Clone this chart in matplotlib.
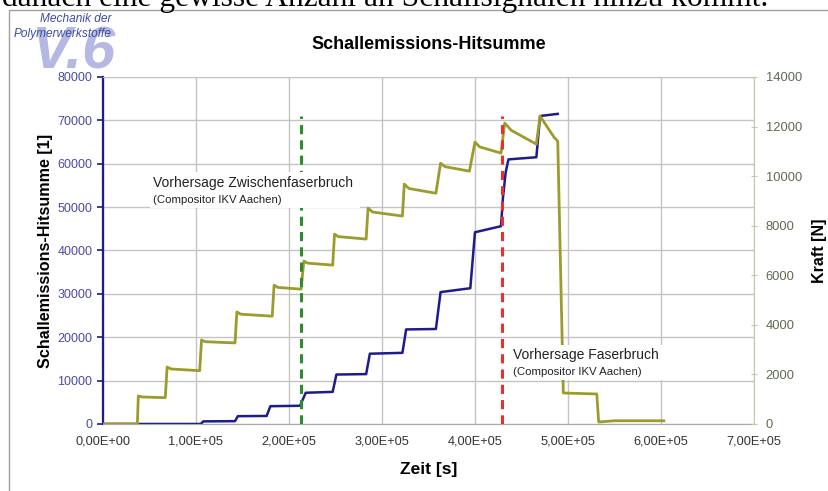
import matplotlib
matplotlib.use("Agg")
import matplotlib.pyplot as plt
from matplotlib.patches import Rectangle
from matplotlib.ticker import FuncFormatter, MultipleLocator

plt.rcParams['font.family'] = ['Liberation Sans', 'DejaVu Sans']

# Kraftverlauf (Zeit in s, Kraft in N)
zeit_kraft = [0, 0.37e5, 0.38e5, 0.42e5, 0.67e5, 0.69e5, 0.73e5, 1.04e5, 1.06e5, 1.10e5, 1.42e5,
              1.44e5, 1.48e5, 1.82e5, 1.84e5, 1.88e5, 2.13e5, 2.16e5, 2.20e5, 2.47e5, 2.49e5,
              2.53e5, 2.83e5, 2.85e5, 2.90e5, 3.22e5, 3.24e5, 3.29e5, 3.58e5, 3.63e5, 3.68e5,
              3.94e5, 4.00e5, 4.05e5, 4.28e5, 4.32e5, 4.39e5, 4.66e5, 4.70e5, 4.85e5, 4.89e5,
              4.95e5, 5.31e5, 5.33e5, 5.50e5, 6.03e5]
kraft = [0, 0, 1130, 1090, 1060, 2300, 2220, 2150, 3390, 3320, 3270,
         4520, 4430, 4350, 5600, 5510, 5440, 6570, 6490, 6410, 7660,
         7560, 7460, 8710, 8550, 8390, 9680, 9500, 9310, 10520, 10380,
         10200, 11370, 11180, 10930, 12140, 11850, 11290, 12420, 11570, 11410,
         1250, 1210, 80, 130, 130]

# Schallemissions-Hitsumme
zeit_hits = [0, 1.05e5, 1.08e5, 1.42e5, 1.45e5, 1.76e5, 1.80e5, 2.12e5, 2.18e5, 2.47e5,
             2.51e5, 2.83e5, 2.87e5, 3.22e5, 3.26e5, 3.58e5, 3.63e5, 3.95e5, 4.00e5,
             4.28e5, 4.30e5, 4.33e5, 4.36e5, 4.66e5, 4.70e5, 4.89e5]
hits = [0, 0, 600, 650, 1800, 1850, 4100, 4200, 7200, 7400,
        11400, 11500, 16200, 16400, 21800, 21900, 30400, 31300, 44200,
        45600, 52000, 58000, 61000, 61500, 71000, 71500]

# Vorhersagen (Compositor IKV Aachen)
t_zfb = 2.13e5
t_fb = 4.29e5
hoehe_vorhersage = [0, 71000]

oliv = '#9c9c2c'
blau = '#1c1c8c'

fig = plt.figure(figsize=(8.29, 4.91), dpi=100)
ax = fig.add_axes([0.1242, 0.1365, 0.7853, 0.7067])
ax2 = ax.twinx()

ax.plot(zeit_hits, hits, color=blau, lw=1.8)
ax2.plot(zeit_kraft, kraft, color=oliv, lw=2.0)

ax.set_xlim(0, 7e5)
ax.set_ylim(0, 80000)
ax2.set_ylim(0, 14000)
ax.xaxis.set_major_locator(MultipleLocator(1e5))
ax.yaxis.set_major_locator(MultipleLocator(10000))
ax2.yaxis.set_major_locator(MultipleLocator(2000))
ax.xaxis.set_major_formatter(FuncFormatter(lambda v, p: f"{v:.2E}".replace('.', ',')))

ax.set_axisbelow(True)
ax.grid(True, color='#c4c4c4', lw=1.0)

ax.spines['left'].set_color(blau)
ax.spines['left'].set_linewidth(1.6)
ax.spines['bottom'].set_color('#a8a8a8')
ax.spines['top'].set_color('#c4c4c4')
ax.spines['right'].set_visible(False)
ax2.spines['left'].set_visible(False)
ax2.spines['bottom'].set_visible(False)
ax2.spines['top'].set_visible(False)
ax2.spines['right'].set_color('#c8c8b0')

ax.tick_params(axis='y', colors=blau, labelcolor='#4a4aa8', labelsize=9, length=4, width=1.2)
ax.tick_params(axis='x', colors='#a8a8a8', labelcolor='#333333', labelsize=9.2, length=0, pad=8)
ax2.tick_params(axis='y', colors='#c8c8a0', labelcolor='#5e6a52', labelsize=9.3, length=5,
                direction='inout', pad=6)

ax.set_xlabel('Zeit [s]', fontsize=12.5, fontweight='bold', labelpad=11)
ax.set_ylabel('Schallemissions-Hitsumme [1]', fontsize=11.6, fontweight='bold', labelpad=3)
ax2.set_ylabel('Kraft [N]', fontsize=11.5, fontweight='bold', labelpad=7)
ax.set_title('Schallemissions-Hitsumme', fontsize=13, fontweight='bold', pad=20)

# Vorhersagelinien über beiden Kurven
ax2.plot([t_zfb, t_zfb], hoehe_vorhersage, transform=ax.transData, color='#2e8b2e',
         lw=2.2, dashes=(3, 2))
ax2.plot([t_fb, t_fb], hoehe_vorhersage, transform=ax.transData, color='#e8312e',
         lw=2.2, dashes=(3, 2))

# Beschriftungen mit weißem Hintergrund
ax2.add_patch(Rectangle((0.0722, 0.6225), 0.3226, 0.1037, transform=ax2.transAxes,
                        facecolor='white', edgecolor='none', zorder=3))
ax2.text(0.0768, 0.6945, 'Vorhersage Zwischenfaserbruch', transform=ax2.transAxes,
         fontsize=10, color='#222222', va='center', zorder=4)
ax2.text(0.0768, 0.6455, '(Compositor IKV Aachen)', transform=ax2.transAxes,
         fontsize=8.2, color='#222222', va='center', zorder=4)
ax2.add_patch(Rectangle((0.6252, 0.1268), 0.2350, 0.1009, transform=ax2.transAxes,
                        facecolor='white', edgecolor='none', zorder=3))
ax2.text(0.6298, 0.1988, 'Vorhersage Faserbruch', transform=ax2.transAxes,
         fontsize=10, color='#222222', va='center', zorder=4)
ax2.text(0.6298, 0.1499, '(Compositor IKV Aachen)', transform=ax2.transAxes,
         fontsize=8.2, color='#222222', va='center', zorder=4)

# Logo oben links
fig.text(0.037, 0.860, 'V.6', fontsize=43, fontweight='bold', style='italic',
         color='#b4b8e2', va='baseline')
fig.text(0.135, 0.961, 'Mechanik der', fontsize=8.6, style='italic', color='#3c4ea0',
         ha='right', va='center')
fig.text(0.135, 0.931, 'Polymerwerkstoffe', fontsize=8.6, style='italic', color='#3c4ea0',
         ha='right', va='center')

# Rahmen und angeschnittener Fließtext
fig.add_artist(plt.Line2D([0.011, 0.011, 1.0], [0.0, 0.98, 0.98], color='#a0a0a0', lw=1.0))
fig.text(0.002, 0.987, 'danach eine gewisse Anzahl an Schallsignalen hinzu kommt.',
         family='Liberation Serif', fontsize=22.7, color='black', va='baseline')

fig.savefig('out.png', dpi=100)
